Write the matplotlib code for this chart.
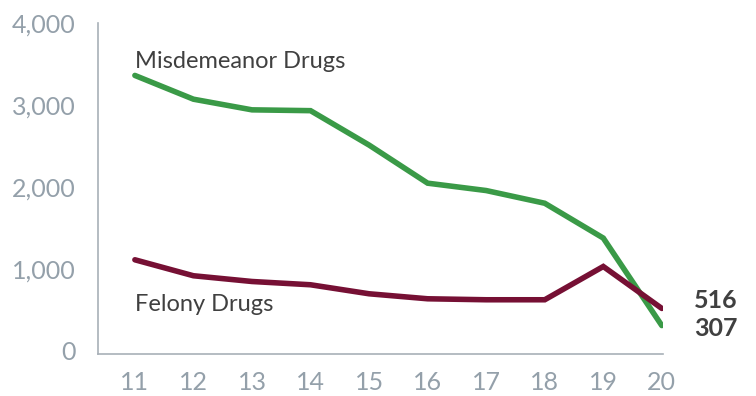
import matplotlib.pyplot as plt
import matplotlib.ticker as mticker

years = [11, 12, 13, 14, 15, 16, 17, 18, 19, 20]
misdemeanor = [3360, 3070, 2940, 2930, 2510, 2045, 1955, 1800, 1375, 307]
felony = [1110, 915, 845, 805, 695, 634, 622, 622, 1028, 516]

green = '#3a9a47'
maroon = '#761034'
grey = '#94a0aa'
dark = '#404040'

plt.rcParams['font.family'] = ['Lato', 'DejaVu Sans']

fig = plt.figure(figsize=(7.56, 3.96), dpi=100)
ax = fig.add_axes([98/756, 1 - 354/396, (663 - 98)/756, (354 - 23)/396])

ax.plot(years, misdemeanor, color=green, lw=4, solid_capstyle='round', solid_joinstyle='miter')
ax.plot(years, felony, color=maroon, lw=4, solid_capstyle='round', solid_joinstyle='miter')

ax.set_xlim(10.37, 20.02)
ax.set_ylim(-40, 3990)
ax.set_xticks(years)
ax.set_yticks([0, 1000, 2000, 3000, 4000])
ax.yaxis.set_major_formatter(mticker.FuncFormatter(lambda v, p: f'{int(v):,}'))
ax.tick_params(length=0, labelsize=18, colors=grey)
ax.tick_params(axis='x', pad=12)
ax.tick_params(axis='y', pad=16)

for s in ['top', 'right']:
    ax.spines[s].set_visible(False)
for s in ['left', 'bottom']:
    ax.spines[s].set_color('#a8b0b8')
    ax.spines[s].set_linewidth(1.2)

ax.text(11, 3530, 'Misdemeanor Drugs', fontsize=17, color=dark, va='center', ha='left')
ax.text(11, 570, 'Felony Drugs', fontsize=17, color=dark, va='center', ha='left')

ax.annotate(f'{felony[-1]}', xy=(years[-1], felony[-1]), xytext=(76, 8),
            textcoords='offset pixels', ha='right', va='center',
            fontsize=18, fontweight='bold', color=dark, annotation_clip=False)
ax.annotate(f'{misdemeanor[-1]}', xy=(years[-1], misdemeanor[-1]), xytext=(76, -3),
            textcoords='offset pixels', ha='right', va='center',
            fontsize=18, fontweight='bold', color=dark, annotation_clip=False)

fig.savefig('out.png', dpi=100)
